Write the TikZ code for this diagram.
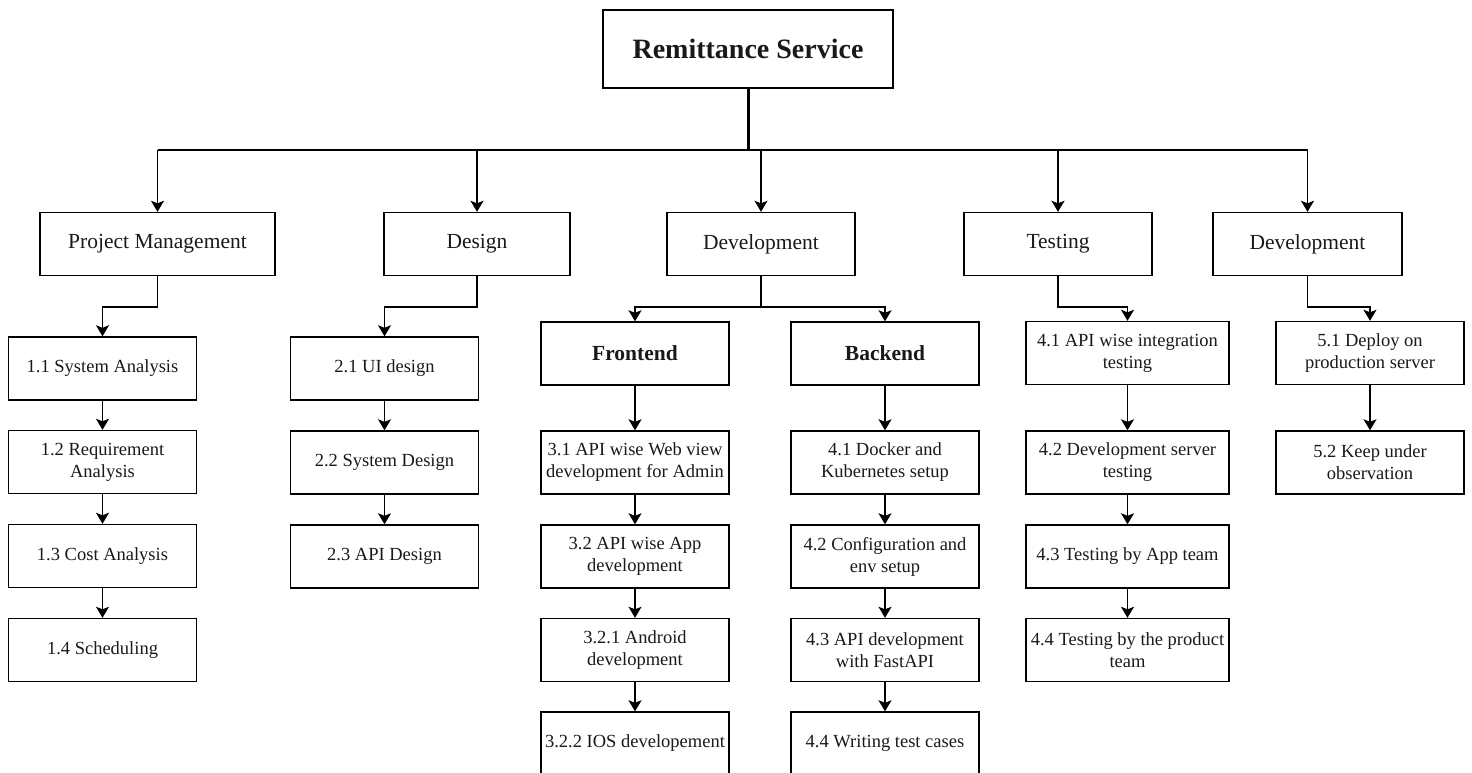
\documentclass[tikz,border=0pt]{standalone}
\usepackage{fontspec}
\setmainfont{Liberation Serif}
\usetikzlibrary{arrows.meta}
\begin{document}
\begin{tikzpicture}[x=1pt,y=-1pt,
  box/.style={draw=black, line width=1.4pt, inner sep=0pt, align=center,
    minimum height=63pt, text=black!90},
  head/.style={box, font=\fontsize{21.5}{24}\selectfont},
  task/.style={box, minimum width=188pt, font=\fontsize{18.5}{22}\selectfont},
  wire/.style={line width=1.4pt, draw=black},
  arr/.style={wire, -{Stealth[length=11pt,width=13pt,inset=2.5pt]}},
]
\useasboundingbox (0,0) rectangle (1472,773);

% root
\node[box, minimum width=290pt, minimum height=78pt,
      font=\fontsize{28}{32}\selectfont\bfseries] (root) at (748,49) {Remittance Service};

% first level
\node[head, minimum width=235pt] (pm)  at (157.5,244) {Project Management};
\node[head, minimum width=186pt] (des) at (477,244)   {Design};
\node[head, minimum width=188pt] (dev) at (761,244)   {Development};
\node[head, minimum width=188pt] (tst) at (1058,244)  {Testing};
\node[head, minimum width=189pt] (dep) at (1307.5,244){Development};

% project management
\node[task] (p1) at (102.5,368.5) {1.1 System Analysis};
\node[task] (p2) at (102.5,462)   {1.2 Requirement\\Analysis};
\node[task] (p3) at (102.5,556)   {1.3 Cost Analysis};
\node[task] (p4) at (102.5,650)   {1.4 Scheduling};

% design
\node[task] (d1) at (384.5,368.5) {2.1 UI design};
\node[task] (d2) at (384.5,462.5) {2.2 System Design};
\node[task] (d3) at (384.5,556.5) {2.3 API Design};

% development: frontend
\node[task, font=\fontsize{21.5}{24}\selectfont\bfseries] (fe) at (635,353.5) {Frontend};
\node[task] (f1) at (635,462.5) {3.1 API wise Web view\\development for Admin};
\node[task] (f2) at (635,556.5) {3.2 API wise App\\development};
\node[task] (f3) at (635,650)   {3.2.1 Android\\development};
\node[task] (f4) at (635,743.5) {3.2.2 IOS developement};

% development: backend
\node[task, font=\fontsize{21.5}{24}\selectfont\bfseries] (be) at (885,353.5) {Backend};
\node[task] (b1) at (885,462.5) {4.1 Docker and\\Kubernetes setup};
\node[task] (b2) at (885,556.5) {4.2 Configuration and\\env setup};
\node[task] (b3) at (885,650)   {4.3 API development\\with FastAPI};
\node[task] (b4) at (885,743.5) {4.4 Writing test cases};

% testing
\node[task, minimum width=203pt] (t1) at (1127.5,353) {4.1 API wise integration\\testing};
\node[task, minimum width=203pt] (t2) at (1127.5,462.5) {4.2 Development server\\testing};
\node[task, minimum width=203pt] (t3) at (1127.5,556.5) {4.3 Testing by App team};
\node[task, minimum width=203pt] (t4) at (1127.5,650) {4.4 Testing by the product\\team};

% deployment
\node[task] (e1) at (1370,353)   {5.1 Deploy on\\production server};
\node[task] (e2) at (1370,462.5) {5.2 Keep under\\observation};

% trunk and bus
\coordinate (bus) at (0,150);
\coordinate (bend) at (0,307);
\draw[wire, line width=3pt] (root.south) -- (root.south |- bus);
\draw[wire] (pm.north |- bus) -- (dep.north |- bus);
\foreach \n in {pm,des,dev,tst,dep}
  \draw[arr] (\n.north |- bus) -- (\n.north);

% elbow connectors into each column
\draw[arr] (pm.south)  -- (pm.south |- bend)  -| (p1.north);
\draw[arr] (des.south) -- (des.south |- bend) -| (d1.north);
\draw[wire] (dev.south) -- (dev.south |- bend);
\draw[arr] (dev.south |- bend) -| (fe.north);
\draw[arr] (dev.south |- bend) -| (be.north);
\draw[arr] (tst.south) -- (tst.south |- bend) -| (t1.north);
\draw[arr] (dep.south) -- (dep.south |- bend) -| (e1.north);

% chains
\draw[arr] (p1) -- (p2); \draw[arr] (p2) -- (p3); \draw[arr] (p3) -- (p4);
\draw[arr] (d1) -- (d2); \draw[arr] (d2) -- (d3);
\draw[arr] (fe) -- (f1); \draw[arr] (f1) -- (f2); \draw[arr] (f2) -- (f3); \draw[arr] (f3) -- (f4);
\draw[arr] (be) -- (b1); \draw[arr] (b1) -- (b2); \draw[arr] (b2) -- (b3); \draw[arr] (b3) -- (b4);
\draw[arr] (t1) -- (t2); \draw[arr] (t2) -- (t3); \draw[arr] (t3) -- (t4);
\draw[arr] (e1) -- (e2);
\end{tikzpicture}
\end{document}
